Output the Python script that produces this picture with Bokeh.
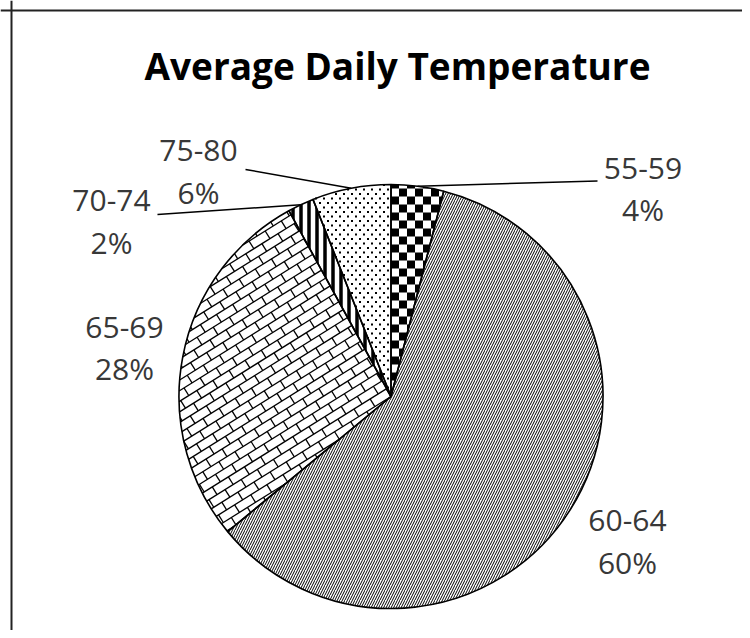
import numpy as np
from bokeh.plotting import figure
from bokeh.models import ColumnDataSource, Range1d, Span, Label
from bokeh.core.properties import value
from bokeh.embed import file_html
from bokeh.resources import INLINE

# ---------------- data ----------------
title_text = "Average Daily Temperature"
categories = ["55-59", "60-64", "65-69", "70-74", "75-80"]
percents = [4, 60, 28, 2, 6]

# ---------------- styles / layout ----------------
fills = ["checker", "right_diagonal_line", "brick", "vertical_line", "dots"]
hatch_scales = [1, 5, 1, 8, 1]
hatch_weights = [1, 1, 1, 3.5, 1]

W, H = 742, 630
CX, CY, R = 390.5, 234.0, 212.0
TEXT_DY = 13.0  # baseline correction for rendered text

CHECK = 8.0                        # checker square size (px)
DOT_DX, DOT_ROW, DOT = 8.0, 4.5, 2.0   # staggered dot lattice
BRICK_ANG, BRICK_D, BRICK_L = np.radians(32), 9.0, 19.0

label_pos = {
    "55-59": (642.5, 449.5, 408.0),
    "60-64": (627.0, 97.0, 55.0),
    "65-69": (124.0, 290.0, 249.0),
    "70-74": (111.0, 417.0, 375.0),
    "75-80": (198.0, 467.0, 425.0),
}
leader_start = {
    "55-59": (597.0, 449.5),
    "70-74": (157.0, 416.0),
    "75-80": (245.0, 461.0),
}

# ---------------- geometry from data ----------------
frac = np.array(percents, dtype=float) / float(sum(percents))
cum = np.concatenate([[0.0], np.cumsum(frac)])
start = np.pi / 2 - 2 * np.pi * cum[:-1]
end = np.pi / 2 - 2 * np.pi * cum[1:]
mid = (start + end) / 2


def wedge_poly(a_start, a_end):
    n = max(8, int(abs(a_start - a_end) / np.radians(0.5)) + 2)
    angs = np.linspace(a_end, a_start, n)          # counter-clockwise
    return [(CX, CY)] + [(CX + R * np.cos(a), CY + R * np.sin(a)) for a in angs]


def side(A, B, P):
    return (B[0] - A[0]) * (P[1] - A[1]) - (B[1] - A[1]) * (P[0] - A[0])


def clip_poly(subject, clip):
    out = list(subject)
    n = len(clip)
    for i in range(n):
        if not out:
            break
        A, B = clip[i], clip[(i + 1) % n]
        inp, out = out, []
        S = inp[-1]
        for E in inp:
            fe, fs = side(A, B, E), side(A, B, S)
            if fe >= 0:
                if fs < 0:
                    t = fs / (fs - fe)
                    out.append((S[0] + t * (E[0] - S[0]), S[1] + t * (E[1] - S[1])))
                out.append(E)
            elif fs >= 0:
                t = fs / (fs - fe)
                out.append((S[0] + t * (E[0] - S[0]), S[1] + t * (E[1] - S[1])))
            S = E
    return out


def clip_seg(P0, P1, clip):
    t0, t1 = 0.0, 1.0
    n = len(clip)
    for i in range(n):
        A, B = clip[i], clip[(i + 1) % n]
        f0, f1 = side(A, B, P0), side(A, B, P1)
        if f0 < 0 and f1 < 0:
            return None
        if f0 >= 0 and f1 >= 0:
            continue
        t = f0 / (f0 - f1)
        if f0 < 0:
            t0 = max(t0, t)
        else:
            t1 = min(t1, t)
        if t0 >= t1:
            return None
    return ((P0[0] + t0 * (P1[0] - P0[0]), P0[1] + t0 * (P1[1] - P0[1])),
            (P0[0] + t1 * (P1[0] - P0[0]), P0[1] + t1 * (P1[1] - P0[1])))


def inside(P, clip):
    n = len(clip)
    return all(side(clip[i], clip[(i + 1) % n], P) >= 0 for i in range(n))


p = figure(width=W, height=H, x_range=Range1d(0, W), y_range=Range1d(0, H),
           output_backend="svg", toolbar_location=None,
           x_axis_type=None, y_axis_type=None, min_border=0)
p.grid.visible = False
p.outline_line_color = None
p.background_fill_color = "white"
p.border_fill_color = "white"

builtin = [f if f in ("right_diagonal_line", "vertical_line") else "blank" for f in fills]
src = ColumnDataSource(dict(cat=categories, start=start, end=end,
                            hp=builtin, hs=hatch_scales, hw=hatch_weights))

# base fills (+ built-in hatches)
p.wedge(x=CX, y=CY, radius=R, start_angle="start", end_angle="end",
        direction="clock", source=src, fill_color="white", line_color=None,
        hatch_pattern="hp", hatch_scale="hs", hatch_weight="hw", hatch_color="black")

# custom fills computed against each slice's outline
chk_xs, chk_ys = [], []
dot_x, dot_y = [], []
seg = {"x0": [], "y0": [], "x1": [], "y1": []}
for i, f in enumerate(fills):
    poly = wedge_poly(start[i], end[i])
    xs = [q[0] for q in poly]; ys = [q[1] for q in poly]
    xmin, xmax, ymin, ymax = min(xs), max(xs), min(ys), max(ys)
    if f == "checker":
        i0 = int(np.floor((xmin - CX) / CHECK)) - 1
        i1 = int(np.ceil((xmax - CX) / CHECK)) + 1
        j0 = int(np.floor((ymin - CY) / CHECK)) - 1
        j1 = int(np.ceil((ymax - CY) / CHECK)) + 1
        for a in range(i0, i1):
            for b in range(j0, j1):
                if (a + b) % 2:
                    continue
                x0, y0 = CX + a * CHECK, CY + b * CHECK
                sq = [(x0, y0), (x0 + CHECK, y0), (x0 + CHECK, y0 + CHECK), (x0, y0 + CHECK)]
                cp = clip_poly(sq, poly)
                if len(cp) >= 3:
                    chk_xs.append([q[0] for q in cp]); chk_ys.append([q[1] for q in cp])
    elif f == "dots":
        b0 = int(np.floor((ymin - CY) / DOT_ROW)) - 1
        b1 = int(np.ceil((ymax - CY) / DOT_ROW)) + 1
        a0 = int(np.floor((xmin - CX) / DOT_DX)) - 1
        a1 = int(np.ceil((xmax - CX) / DOT_DX)) + 1
        for b in range(b0, b1):
            off = 0.0 if b % 2 == 0 else DOT_DX / 2
            for a in range(a0, a1):
                P = (CX - 3.0 + off + a * DOT_DX, CY + b * DOT_ROW)
                if inside(P, poly):
                    dot_x.append(P[0]); dot_y.append(P[1])
    elif f == "brick":
        ux, uy = np.cos(BRICK_ANG), np.sin(BRICK_ANG)
        vx, vy = -np.sin(BRICK_ANG), np.cos(BRICK_ANG)
        nk = int(np.ceil(R / BRICK_D)) + 2
        nj = int(np.ceil(R / BRICK_L)) + 2
        for k in range(-nk, nk + 1):
            ox, oy = CX + k * BRICK_D * vx, CY + k * BRICK_D * vy
            s = clip_seg((ox - 1.2 * R * ux, oy - 1.2 * R * uy),
                         (ox + 1.2 * R * ux, oy + 1.2 * R * uy), poly)
            if s:
                seg["x0"].append(s[0][0]); seg["y0"].append(s[0][1])
                seg["x1"].append(s[1][0]); seg["y1"].append(s[1][1])
            off = 0.0 if k % 2 == 0 else BRICK_L / 2
            for j in range(-nj, nj + 1):
                t = off + j * BRICK_L
                px, py = ox + t * ux, oy + t * uy
                s = clip_seg((px, py), (px + BRICK_D * vx, py + BRICK_D * vy), poly)
                if s:
                    seg["x0"].append(s[0][0]); seg["y0"].append(s[0][1])
                    seg["x1"].append(s[1][0]); seg["y1"].append(s[1][1])

p.patches(xs=chk_xs, ys=chk_ys, fill_color="black", line_color=None)
p.rect(x=dot_x, y=dot_y, width=DOT, height=DOT, fill_color="black", line_color=None)
p.segment(x0=seg["x0"], y0=seg["y0"], x1=seg["x1"], y1=seg["y1"],
          line_color="black", line_width=1.3)

# slice outlines
p.wedge(x=CX, y=CY, radius=R, start_angle="start", end_angle="end",
        direction="clock", source=src, fill_color=None, line_color="black", line_width=1.6)

# leader lines
lx0, ly0, lx1, ly1 = [], [], [], []
for i, c in enumerate(categories):
    if c in leader_start:
        sx, sy = leader_start[c]
        lx0.append(sx); ly0.append(sy)
        lx1.append(CX + R * np.cos(mid[i])); ly1.append(CY + R * np.sin(mid[i]))
p.segment(x0=lx0, y0=ly0, x1=lx1, y1=ly1, line_color="black", line_width=1.5)

# labels
tx, ty, tt = [], [], []
for c, v in zip(categories, percents):
    x, y1, y2 = label_pos[c]
    tx += [x, x]; ty += [y1 + TEXT_DY, y2 + TEXT_DY]; tt += [c, f"{v}%"]
p.text(x=tx, y=ty, text=tt, text_font=value("Open Sans"), text_font_size="30px",
       text_align="center", text_baseline="alphabetic", text_color="#383838")

p.add_layout(Label(x=397, y=552 + TEXT_DY, text=title_text, text_font="Open Sans",
                   text_font_style="bold", text_font_size="37px",
                   text_align="center", text_baseline="alphabetic",
                   text_color="black"))

# chart border (only top and left edges are visible in the crop)
p.add_layout(Span(location=11, dimension="height", line_color="#222222", line_width=2))
p.add_layout(Span(location=620, dimension="width", line_color="#222222", line_width=2))

open("out.html", "w").write(file_html(p, INLINE))
